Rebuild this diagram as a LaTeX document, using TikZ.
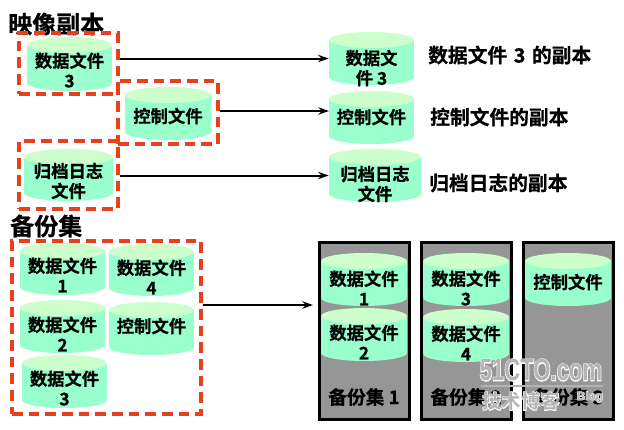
\documentclass[tikz,border=0pt]{standalone}
\usepackage{fontspec}
\setmainfont{Noto Sans CJK SC}[BoldFont={Noto Sans CJK SC Bold},BoldFeatures={FakeBold=0.7}]
\newfontfamily\markfont{Liberation Sans Bold}
\newfontfamily\markhalo{Liberation Sans Bold}[FakeBold=6]
\newfontfamily\cjkmark{Noto Sans CJK SC Bold}
\newfontfamily\cjkhalo{Noto Sans CJK SC Bold}[FakeBold=6]
\usetikzlibrary{fit,arrows.meta}
\definecolor{cyltop}{HTML}{CCFFCC}
\definecolor{cylbody}{HTML}{99FFCC}
\definecolor{frameorange}{HTML}{E8401A}
\definecolor{setgray}{HTML}{969696}
\definecolor{markgray}{HTML}{B4B4B4}
\tikzset{
  dashbox/.style={draw=frameorange,line width=2.4pt,dash pattern=on 8pt off 4.5pt,inner sep=0pt},
  setbox/.style={draw=black,fill=setgray,line width=2.4pt,inner sep=0pt},
  flow/.style={draw=black,line width=1.5pt,-{Stealth[length=8pt,width=5.5pt]}},
  cyltext/.style={font=\fontsize{13}{15}\selectfont\bfseries,align=center,inner sep=0pt},
  caption/.style={font=\fontsize{14.8}{17}\selectfont\bfseries,inner sep=0pt,anchor=west},
  heading/.style={font=\fontsize{18}{20}\selectfont\bfseries,inner sep=0pt,anchor=west},
  setlabel/.style={font=\fontsize{14}{16}\selectfont\bfseries,inner sep=0pt},
  markinner/.style={inner sep=0pt,text=markgray},
  markouter/.style={inner sep=0pt,text=white}
}
% name, left, right, top, bottom, text centre y, text
\newcommand{\drum}[7]{%
  \pgfmathsetmacro{\cx}{(#2+#3)/2}%
  \pgfmathsetmacro{\rxpt}{(#3-#2)/2*0.75}%
  \fill[cylbody] (#2,#4+8) rectangle (#3,#5-8);
  \fill[cylbody] (\cx,#5-8) ellipse [x radius=\rxpt pt,y radius=6pt];
  \fill[cyltop] (\cx,#4+8) ellipse [x radius=\rxpt pt,y radius=6pt];
  \node[inner sep=0pt,fit={(#2,#4)(#3,#5)}] (#1) {};
  \node[cyltext] (#1-text) at (\cx,#6) {#7};
}
\begin{document}
\begin{tikzpicture}[x=0.75pt,y=-0.75pt]
\useasboundingbox (0,0) rectangle (624,429);

% image copies
\node[heading] (titleA) at (8,24) {映像副本};
\node[dashbox,fit={(19,33)(118,94)}] (boxA) {};
\node[dashbox,fit={(118,81)(218,144)}] (boxB) {};
\node[dashbox,fit={(19,141)(118,209)}] (boxC) {};
\drum{srcA}{27}{112}{37}{91}{70}{数据文件\\3}
\drum{srcB}{125}{211}{87}{140}{116}{控制文件}
\drum{srcC}{24}{113}{149}{201}{181}{归档日志\\文件}
\drum{copyA}{329}{414}{32}{85}{68}{数据文\\件 3}
\drum{copyB}{329}{414}{91}{144}{117}{控制文件}
\drum{copyC}{329}{421}{149}{202}{184}{归档日志\\文件}
\node[caption] (capA) at (428,55) {数据文件\,\,3\,\,的副本};
\node[caption] (capB) at (430,117) {控制文件的副本};
\node[caption] (capC) at (429,183) {归档日志的副本};
\coordinate (inB) at (329,111);
\draw[flow] (boxA.east |- copyA.west) -- (copyA.west);
\draw[flow] (boxB.east |- inB) -- (inB);
\draw[flow] (boxC.east |- copyC.west) -- (copyC.west);

% backup sets
\node[heading] (titleB) at (10,226) {备份集};
\node[dashbox,fit={(12,241)(201,414)}] (boxS) {};
\drum{s1}{20}{105}{243}{295}{275}{数据文件\\1}
\drum{s4}{109}{194}{244}{296}{277}{数据文件\\4}
\drum{s2}{20}{105}{300}{353}{334}{数据文件\\2}
\drum{sc}{109}{194}{302}{355}{326}{控制文件}
\drum{s3}{22}{107}{355}{408}{388}{数据文件\\3}
\node[setbox,fit={(319.5,242.5)(409.5,419.5)}] (set1) {};
\node[setbox,fit={(421.5,242.5)(511.5,419.5)}] (set2) {};
\node[setbox,fit={(523.5,242.5)(613.5,419.5)}] (set3) {};
\drum{b1}{321}{407}{253}{306}{288}{数据文件\\1}
\drum{b2}{321}{407}{308}{361}{342}{数据文件\\2}
\drum{b3}{423}{509}{253}{306}{288}{数据文件\\3}
\drum{b4}{423}{509}{309}{362}{343}{数据文件\\4}
\drum{bc}{525}{611}{253}{306}{282}{控制文件}
\node[setlabel] (lab1) at (364,397) {备份集 1};
\node[setlabel] (lab2) at (466,397) {备份集 2};
\node[setlabel] (lab3) at (568,397) {备份集 3};
\coordinate (inS) at (313,305);
\draw[flow] (boxS.east |- inS) -- (inS);

% site watermark
\node[markouter,xscale=0.72,font=\fontsize{23}{25}\markhalo] (wmA) at (541,370) {51CTO.com};
\node[markinner,xscale=0.72,font=\fontsize{23}{25}\markfont] (wmB) at (541,370) {51CTO.com};
\fill[markgray] (481,385) rectangle (603,387);
\node[markouter,font=\fontsize{14.6}{17}\cjkhalo] (wmC) at (521,401) {技术博客};
\node[markinner,font=\fontsize{14.6}{17}\cjkmark] (wmD) at (521,401) {技术博客};
\node[markouter,font=\fontsize{9}{10}\markhalo] (wmE) at (590,397) {Blog};
\node[markinner,font=\fontsize{9}{10}\markfont] (wmF) at (590,397) {Blog};
\end{tikzpicture}
\end{document}
